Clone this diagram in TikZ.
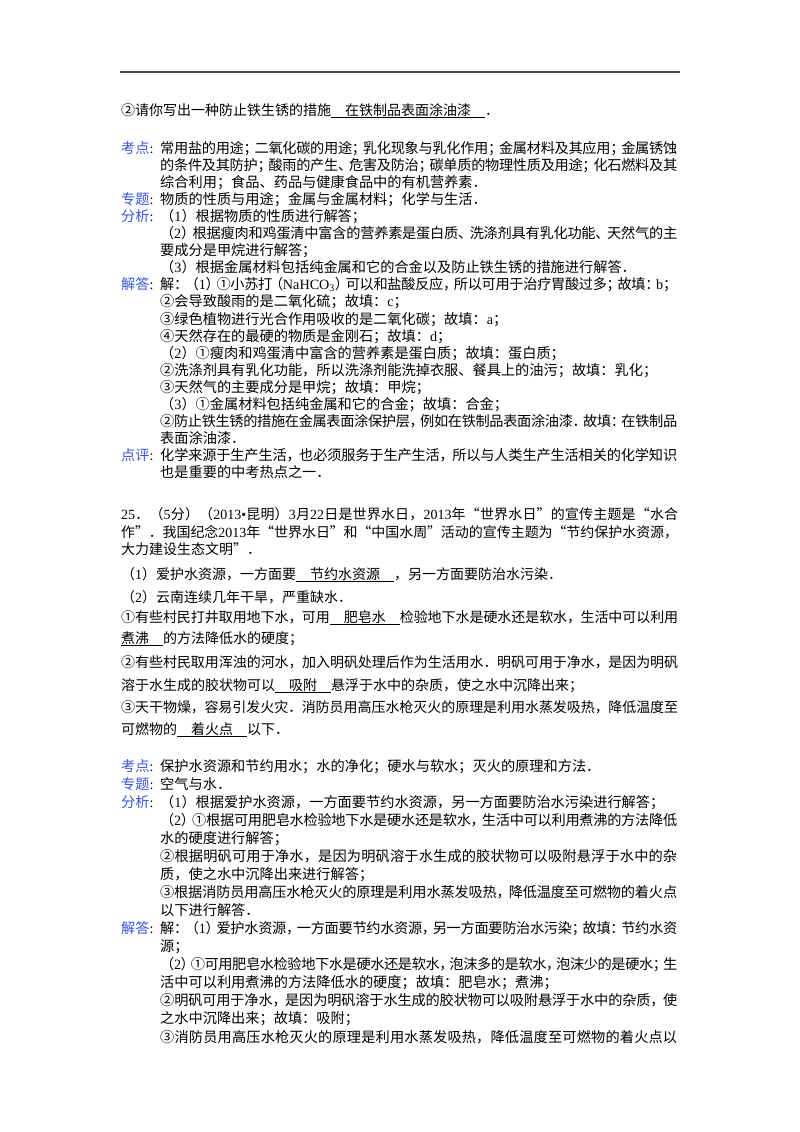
\documentclass[tikz,border=0pt]{standalone}
\usepackage{fontspec}
\setmainfont{Liberation Serif}
\newfontfamily\cjk{Noto Sans CJK SC}
\usetikzlibrary{positioning}
\definecolor{TopicBlue}{HTML}{3355EE}

% Chinese characters in the CJK font, Latin ones in the serif;
% punctuation may be squeezed in a justified line
\XeTeXinterchartokenstate=1
\newXeTeXintercharclass\cjkclass
\newXeTeXintercharclass\pclass
\newXeTeXintercharclass\oclass
\newcount\cc
\newcommand\setcjk[2]{\cc=#1 \loop\XeTeXcharclass\cc=\cjkclass\advance\cc by 1 \ifnum\cc<#2\repeat}
\setcjk{"4E00}{"A000}
\setcjk{"3000}{"3040}
\setcjk{"FF00}{"FFF0}
\setcjk{"2460}{"2474}
\XeTeXcharclass"FF0C=\pclass \XeTeXcharclass"FF1B=\pclass
\XeTeXcharclass"FF1A=\pclass \XeTeXcharclass"FF0E=\pclass
\XeTeXcharclass"3001=\pclass \XeTeXcharclass"3002=\pclass
\XeTeXcharclass"201D=\pclass \XeTeXcharclass"FF09=\pclass
\XeTeXcharclass"FF08=\oclass \XeTeXcharclass"201C=\oclass
\newcommand\gap{\hskip0pt plus 1.5pt minus .6pt\relax}
\newcommand\pgap{\hskip0pt plus 1.5pt minus .45em\relax}
\XeTeXinterchartoks 0 \cjkclass={\cjk\gap}
\XeTeXinterchartoks 0 \pclass={\cjk\gap}
\XeTeXinterchartoks 0 \oclass={\cjk\pgap}
\XeTeXinterchartoks 4095 \cjkclass={\cjk}
\XeTeXinterchartoks 4095 \pclass={\cjk}
\XeTeXinterchartoks 4095 \oclass={\cjk}
\XeTeXinterchartoks \cjkclass \cjkclass={\gap}
\XeTeXinterchartoks \cjkclass \pclass={\gap}
\XeTeXinterchartoks \cjkclass \oclass={\pgap}
\XeTeXinterchartoks \cjkclass 0={\rmfamily\gap}
\XeTeXinterchartoks \cjkclass 4095={\rmfamily}
\XeTeXinterchartoks \pclass \cjkclass={\pgap}
\XeTeXinterchartoks \pclass \pclass={\pgap}
\XeTeXinterchartoks \pclass \oclass={\pgap}
\XeTeXinterchartoks \pclass 0={\rmfamily\pgap}
\XeTeXinterchartoks \pclass 4095={\rmfamily}
\XeTeXinterchartoks \oclass \cjkclass={\gap}
\XeTeXinterchartoks \oclass \pclass={\gap}
\XeTeXinterchartoks \oclass \oclass={\gap}
\XeTeXinterchartoks \oclass 0={\rmfamily\gap}
\XeTeXinterchartoks \oclass 4095={\rmfamily}

\newcommand\blank[1]{\underline{\hspace{1em}#1\hspace{1em}}}
\newcommand\blankr[1]{\underline{#1\hspace{1em}}}
\newcommand\qfull[1]{\hbox to 557pt{#1}}
\newcommand\afull[1]{\hbox to 517pt{#1}}
\newcommand\topic[1]{\textcolor{TopicBlue}{#1}:}

\begin{document}
\begin{tikzpicture}[x=1pt,y=-1pt,
  qtxt/.style={anchor=base west,inner sep=0pt,font=\fontsize{14}{16}\selectfont},
  atxt/.style={anchor=base west,inner sep=0pt,font=\fontsize{14.2}{16}\selectfont}]
  \useasboundingbox[fill=white] (0,0) rectangle (800,1132);
  \draw[line width=1.2pt,black!70] (120,72) -- (680,72);

  \node[qtxt] (q0) at (121,115) {②请你写出一种防止铁生锈的措施\blank{在铁制品表面涂油漆}．};

  % first answer block
  \foreach \k/\l in {0/考点,3/专题,4/分析,8/解答,18/点评}
    \node[atxt] (ta\k) at (121,{153+17.1*\k}) {\topic{\l}};
  \foreach \k/\t in {0/{\afull{常用盐的用途；二氧化碳的用途；乳化现象与乳化作用；金属材料及其应用；金属锈蚀}},
      1/{\afull{的条件及其防护；酸雨的产生、危害及防治；碳单质的物理性质及用途；化石燃料及其}},
      2/{综合利用；食品、药品与健康食品中的有机营养素．},
      3/{物质的性质与用途；金属与金属材料；化学与生活．},
      4/{（1）根据物质的性质进行解答；},
      5/{\afull{（2）根据瘦肉和鸡蛋清中富含的营养素是蛋白质、洗涤剂具有乳化功能、天然气的主}},
      6/{要成分是甲烷进行解答；},
      7/{（3）根据金属材料包括纯金属和它的合金以及防止铁生锈的措施进行解答．},
      8/{\afull{解：（1）①小苏打（NaHCO\textsubscript{3}）可以和盐酸反应，所以可用于治疗胃酸过多；故填：b；}},
      9/{②会导致酸雨的是二氧化硫；故填：c；},
      10/{③绿色植物进行光合作用吸收的是二氧化碳；故填：a；},
      11/{④天然存在的最硬的物质是金刚石；故填：d；},
      12/{（2）①瘦肉和鸡蛋清中富含的营养素是蛋白质；故填：蛋白质；},
      13/{②洗涤剂具有乳化功能，所以洗涤剂能洗掉衣服、餐具上的油污；故填：乳化；},
      14/{③天然气的主要成分是甲烷；故填：甲烷；},
      15/{（3）①金属材料包括纯金属和它的合金；故填：合金；},
      16/{\afull{②防止铁生锈的措施在金属表面涂保护层，例如在铁制品表面涂油漆．故填：在铁制品}},
      17/{表面涂油漆．},
      18/{\afull{化学来源于生产生活，也必须服务于生产生活，所以与人类生产生活相关的化学知识}},
      19/{也是重要的中考热点之一．}}
    \node[atxt] (a\k) at (160,{153+17.1*\k}) {\t};

  % question 25
  \foreach \y/\t [count=\i] in {519/{\qfull{25．（5分）（2013•昆明）3月22日是世界水日，2013年“世界水日”的宣传主题是“水合}},
      537/{\qfull{作”．我国纪念2013年“世界水日”和“中国水周”活动的宣传主题为“节约保护水资源，}},
      554/{大力建设生态文明”．},
      579/{（1）爱护水资源，一方面要\blank{节约水资源}，另一方面要防治水污染．},
      602/{（2）云南连续几年干旱，严重缺水．},
      622/{\qfull{①有些村民打井取用地下水，可用\blank{肥皂水}检验地下水是硬水还是软水，生活中可以利用}},
      643/{\blankr{煮沸}的方法降低水的硬度；},
      667/{\qfull{②有些村民取用浑浊的河水，加入明矾处理后作为生活用水．明矾可用于净水，是因为明矾}},
      690/{溶于水生成的胶状物可以\blank{吸附}悬浮于水中的杂质，使之水中沉降出来；},
      712/{\qfull{③天干物燥，容易引发火灾．消防员用高压水枪灭火的原理是利用水蒸发吸热，降低温度至}},
      734/{可燃物的\blank{着火点}以下．}}
    \node[qtxt] (q\i) at (121,\y) {\t};

  % second answer block
  \foreach \k/\l in {0/考点,1/专题,2/分析,9/解答}
    \node[atxt] (tc\k) at (121,{771+18.07*\k}) {\topic{\l}};
  \foreach \k/\t in {0/{保护水资源和节约用水；水的净化；硬水与软水；灭火的原理和方法．},
      1/{空气与水．},
      2/{（1）根据爱护水资源，一方面要节约水资源，另一方面要防治水污染进行解答；},
      3/{\afull{（2）①根据可用肥皂水检验地下水是硬水还是软水，生活中可以利用煮沸的方法降低}},
      4/{水的硬度进行解答；},
      5/{\afull{②根据明矾可用于净水，是因为明矾溶于水生成的胶状物可以吸附悬浮于水中的杂}},
      6/{质，使之水中沉降出来进行解答；},
      7/{\afull{③根据消防员用高压水枪灭火的原理是利用水蒸发吸热，降低温度至可燃物的着火点}},
      8/{以下进行解答．},
      9/{\afull{解：（1）爱护水资源，一方面要节约水资源，另一方面要防治水污染；故填：节约水资}},
      10/{源；},
      11/{\afull{（2）①可用肥皂水检验地下水是硬水还是软水，泡沫多的是软水，泡沫少的是硬水；生}},
      12/{活中可以利用煮沸的方法降低水的硬度；故填：肥皂水；煮沸；},
      13/{\afull{②明矾可用于净水，是因为明矾溶于水生成的胶状物可以吸附悬浮于水中的杂质，使}},
      14/{之水中沉降出来；故填：吸附；},
      15/{\afull{③消防员用高压水枪灭火的原理是利用水蒸发吸热，降低温度至可燃物的着火点以}}}
    \node[atxt] (c\k) at (160,{771+18.07*\k}) {\t};
\end{tikzpicture}
\end{document}
